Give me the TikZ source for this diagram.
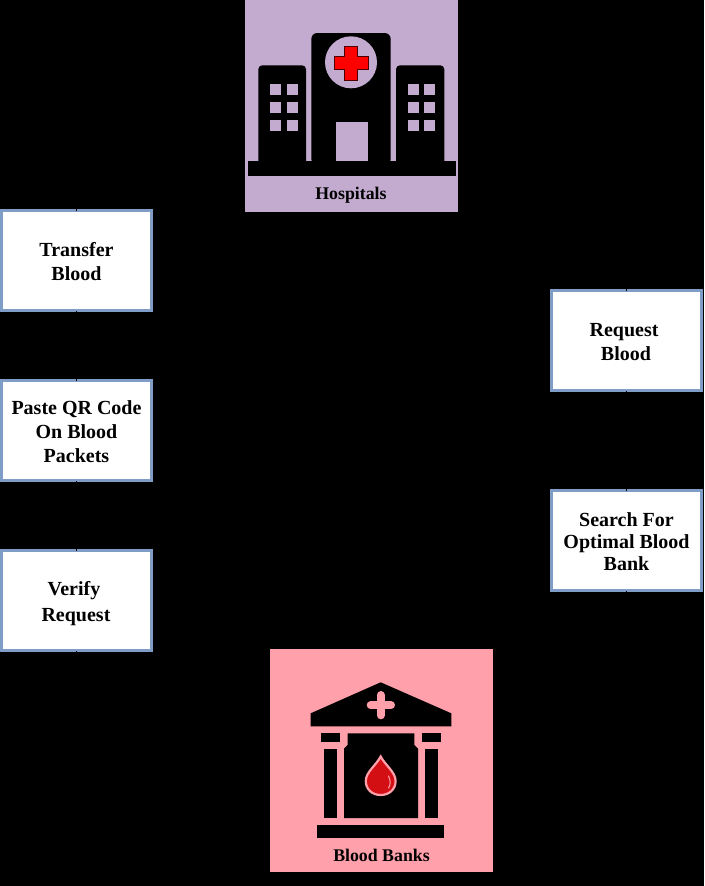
\documentclass[tikz,border=0pt]{standalone}
\usepackage{fontspec}
\setmainfont{Liberation Serif}
\usepackage{xcolor}
\definecolor{hospc}{HTML}{C3ABD0}
\definecolor{bankc}{HTML}{FFA0AB}
\definecolor{edgec}{HTML}{7F9DC6}
\definecolor{crossc}{HTML}{FF0000}
\definecolor{dropc}{HTML}{D40F14}
\newcommand{\stepgap}{\rule{0pt}{16.5pt}}
\tikzset{
  stepbox/.style={draw=edgec, line width=2.1pt, fill=white, minimum width=150pt, minimum height=100pt,
    outer sep=0pt, inner sep=0pt, align=center, font=\bfseries\fontsize{20}{24}\selectfont},
  iconlabel/.style={font=\bfseries\fontsize{17.8}{20}\selectfont, text=black, inner sep=0pt},
  link/.style={draw=black, line width=1pt}
}
\begin{document}
\begin{tikzpicture}[x=1pt, y=-1pt]
  \fill[black] (0,0) rectangle (704,886);
  \useasboundingbox (0,0) rectangle (704,886);
  % hospital
  \node[fill=hospc, minimum width=213pt, minimum height=212pt, outer sep=0pt, inner sep=0pt] (hospitals) at (351.5,106) {};
  \fill[black] (247.5,161.3) rectangle (455.7,176.3);
  \fill[black, rounded corners=4pt] (258.3,165) -- (258.3,65.3) -- (306,65.3) -- (306,165) -- cycle;
  \fill[black, rounded corners=4pt] (396,165) -- (396,65.3) -- (444.3,65.3) -- (444.3,165) -- cycle;
  \fill[black, rounded corners=6pt] (311.3,165) -- (311.3,33) -- (390.7,33) -- (390.7,165) -- cycle;
  \fill[hospc] (351,62.3) circle (26);
  \fill[hospc] (336.3,122) rectangle (367.7,161);
  \draw[fill=crossc, draw=black!70!crossc, line width=0.8pt]
    (344.7,46) -- (357.3,46) -- (357.3,56.7) -- (368,56.7) -- (368,69) -- (357.3,69) -- (357.3,80)
    -- (344.7,80) -- (344.7,69) -- (334,69) -- (334,56.7) -- (344.7,56.7) -- cycle;
  % windows
  \foreach \wx in {270,286.5,407.7,424.3}
    \foreach \wy in {83.7,102,120.3}
      \fill[hospc] (\wx,\wy) rectangle ++(11,11);
  \node[iconlabel] (hospitalstext) at (351,195) {Hospitals};
  % blood bank
  \node[fill=bankc, minimum width=223pt, minimum height=222.5pt, outer sep=0pt, inner sep=0pt] (banks) at (381.5,760.5) {};
  \fill[black] (310.7,713.3) -- (380.7,682.3) -- (451.3,713.3) -- (451.3,726.3) -- (310.7,726.3) -- cycle;
  \draw[bankc, line width=8pt, line cap=round] (370.7,705.3) -- (391,705.3) (380.7,695) -- (380.7,715.3);
  \fill[black] (321,733.3) rectangle (340.3,742);
  \fill[black] (421.7,733.3) rectangle (440.7,742);
  \fill[black] (324.3,748.7) rectangle (337,818);
  \fill[black] (425,748.7) rectangle (437.7,818);
  \fill[black] (347.7,733.3) -- (414.3,733.3) -- (414.3,745) -- (418,748.7) -- (418,818) -- (344,818) -- (344,748.7) -- (347.7,745) -- cycle;
  \fill[black] (317.3,825) rectangle (444.3,837.7);
  % drop
  \draw[fill=dropc, draw=bankc, line width=2.2pt]
    (380.7,756.5) .. controls (385,765) and (395.6,772) .. (395.6,781)
    .. controls (395.6,789.5) and (389,795) .. (380.7,795)
    .. controls (372.4,795) and (365.8,789.5) .. (365.8,781)
    .. controls (365.8,772) and (376.4,765) .. (380.7,756.5) -- cycle;
  \draw[bankc, line width=1pt, line cap=round] (388.5,776) .. controls (391,781) and (390.5,785) .. (388.5,788);
  \node[iconlabel] (bankstext) at (381.5,855.5) {Blood Banks};
  % steps
  \node[stepbox] (transfer) at (76.5,260.5) {\stepgap Transfer\\Blood};
  \node[stepbox] (paste) at (76.5,430.5) {\stepgap Paste QR Code\\On Blood\\Packets};
  \node[stepbox, font=\bfseries\fontsize{20}{26}\selectfont] (verify) at (76.5,600.5) {\rule{0pt}{20.5pt}Verify\kern5pt\\Request\kern1pt};
  \node[stepbox] (request) at (626.5,340.5) {\stepgap Request\kern5pt\\Blood\kern1pt};
  \node[stepbox, font=\bfseries\fontsize{20}{22}\selectfont] (search) at (626.5,540.5) {\stepgap Search For\\Optimal Blood\\Bank};
  % black links
  \draw[link] (hospitals.east) -| (request.north);
  \draw[link] (request.south) -- (search.north);
  \draw[link] (search.south) |- (banks.east);
  \draw[link] (banks.west) -| (verify.south);
  \draw[link] (verify.north) -- (paste.south);
  \draw[link] (paste.north) -- (transfer.south);
  \draw[link] (transfer.north) |- (hospitals.west);
\end{tikzpicture}
\end{document}
